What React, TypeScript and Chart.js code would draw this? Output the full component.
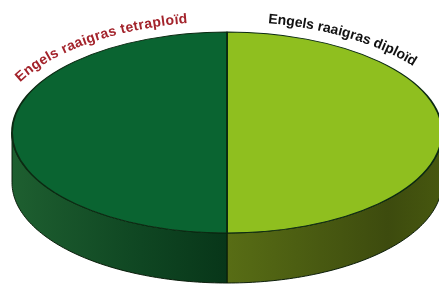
import React, { useEffect, useRef } from "react";
import { Chart, registerables } from "chart.js";

Chart.register(...registerables);

// Data
const categories = ["Engels raaigras diploïd", "Engels raaigras tetraploïd"];
const shares = [50, 50];
const topColors = ["#8fbf1f", "#0a6431"];
const sideColors = [
  ["#586d15", "#3d4b0e", "#47580f"],
  ["#1e5f30", "#0f4622", "#083619"],
];
const labelColors = ["#111111", "#a3232b"];

// Geometry of the 3D look (layout)
const W = 439;
const H = 285;
const CX = 227;
const CY = 132.5;
const RX = 215;
const RY = 100.5;
const DEPTH = 50;
const LABEL_RX = 232;
const LABEL_RY = 111;
const LABEL_START_X = [268, 20];
const LABEL_SPACING = [-0.1, 0.3];

function frontRanges(s: number, e: number) {
  const out: [number, number][] = [];
  for (const k of [-2, 0, 2]) {
    const lo = Math.max(s, k * Math.PI);
    const hi = Math.min(e, (k + 1) * Math.PI);
    if (hi > lo) out.push([lo, hi]);
  }
  return out;
}

function drawCurvedText(
  ctx: CanvasRenderingContext2D,
  text: string,
  startX: number,
  color: string,
  spacing: number
) {
  ctx.save();
  ctx.font = "bold 14px 'Liberation Sans', Arial, sans-serif";
  ctx.fillStyle = color;
  ctx.textBaseline = "alphabetic";
  let t = 2 * Math.PI - Math.acos((startX - CX) / LABEL_RX);
  const speed = (tt: number) =>
    Math.sqrt(Math.pow(LABEL_RX * Math.sin(tt), 2) + Math.pow(LABEL_RY * Math.cos(tt), 2));
  const advance = (tt: number, len: number) => {
    let acc = 0;
    const dt = 0.0005;
    while (acc < len) {
      acc += speed(tt) * dt;
      tt += dt;
    }
    return tt;
  };
  for (const ch of text) {
    const cw = ctx.measureText(ch).width;
    const w = cw + spacing;
    const tm = advance(t, w / 2);
    const px = CX + LABEL_RX * Math.cos(tm);
    const py = CY + LABEL_RY * Math.sin(tm);
    const ang = Math.atan2(LABEL_RY * Math.cos(tm), -LABEL_RX * Math.sin(tm));
    ctx.save();
    ctx.translate(px, py);
    ctx.rotate(ang);
    ctx.fillText(ch, -cw / 2, 0);
    ctx.restore();
    t = advance(t, w);
  }
  ctx.restore();
}

const pie3d = {
  id: "pie3d",
  beforeDatasetsDraw(chart: any) {
    const ctx: CanvasRenderingContext2D = chart.ctx;
    const meta = chart.getDatasetMeta(0);
    meta.data.forEach((arc: any, i: number) => {
      const { startAngle, endAngle } = arc.getProps(["startAngle", "endAngle"], true);
      for (const [a0, a1] of frontRanges(startAngle, endAngle)) {
        const N = 80;
        ctx.beginPath();
        const xs: number[] = [];
        for (let j = 0; j <= N; j++) {
          const tt = a0 + ((a1 - a0) * j) / N;
          const x = CX + RX * Math.cos(tt);
          xs.push(x);
          const y = CY + RY * Math.sin(tt);
          if (j === 0) ctx.moveTo(x, y);
          else ctx.lineTo(x, y);
        }
        for (let j = N; j >= 0; j--) {
          const tt = a0 + ((a1 - a0) * j) / N;
          ctx.lineTo(CX + RX * Math.cos(tt), CY + RY * Math.sin(tt) + DEPTH);
        }
        ctx.closePath();
        const x0 = Math.min(...xs);
        const x1 = Math.max(...xs);
        const g = ctx.createLinearGradient(x0, 0, x1, 0);
        const cols = sideColors[i];
        if (x0 < CX - 1) {
          g.addColorStop(0, cols[0]);
          g.addColorStop(0.6, cols[1]);
          g.addColorStop(1, cols[2]);
        } else {
          g.addColorStop(0, cols[0]);
          g.addColorStop(0.75, cols[1]);
          g.addColorStop(1, cols[2]);
        }
        ctx.fillStyle = g;
        ctx.fill();
        ctx.strokeStyle = "rgba(6,24,6,0.95)";
        ctx.lineWidth = 1;
        ctx.stroke();
      }
    });
    const a = meta.data[0];
    const sx = RX / a.outerRadius;
    const sy = RY / a.outerRadius;
    ctx.save();
    ctx.translate(CX, CY);
    ctx.scale(sx, sy);
    ctx.translate(-a.x, -a.y);
  },
  afterDatasetsDraw(chart: any) {
    const ctx: CanvasRenderingContext2D = chart.ctx;
    ctx.restore();
    categories.forEach((c, i) =>
      drawCurvedText(ctx, c, LABEL_START_X[i], labelColors[i], LABEL_SPACING[i])
    );
  },
};

export default function App() {
  const ref = useRef<HTMLCanvasElement | null>(null);
  useEffect(() => {
    if (!ref.current) return;
    const chart = new Chart(ref.current, {
      type: "pie",
      data: {
        labels: categories,
        datasets: [
          {
            data: shares,
            backgroundColor: topColors,
            borderColor: "#0b2a12",
            borderWidth: 1.2,
            clip: false as any,
          },
        ],
      },
      options: {
        responsive: false,
        animation: false,
        layout: { padding: 0 },
        events: [],
        plugins: {
          legend: { display: false },
          tooltip: { enabled: false },
        },
      },
      plugins: [pie3d],
    });
    return () => chart.destroy();
  }, []);
  return (
    <div style={{ position: "absolute", left: 0, top: 0, width: W, height: H, background: "#fff" }}>
      <canvas ref={ref} width={W} height={H} style={{ display: "block" }} />
    </div>
  );
}
